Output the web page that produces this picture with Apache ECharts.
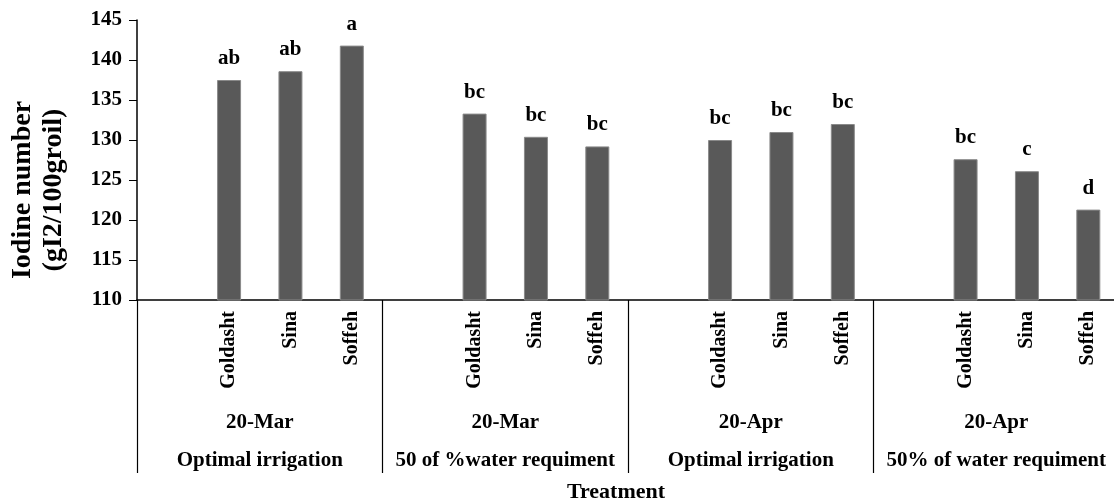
<!DOCTYPE html>
<html>
<head>
<meta charset="utf-8">
<script src="https://cdn.jsdelivr.net/npm/echarts@6/dist/echarts.min.js"></script>
<style>html,body{margin:0;padding:0;background:#fff;}#c{width:1114px;height:502px;}</style>
</head>
<body>
<div id="c"></div>
<script>
var cultivars = ['Goldasht', 'Sina', 'Soffeh'];
var sowingDates = ['20-Mar', '20-Mar', '20-Apr', '20-Apr'];
var treatments = ['Optimal irrigation', '50 of %water requiment', 'Optimal irrigation', '50% of water requiment'];
var iodineValues = [137.5, 138.6, 141.8, 133.3, 130.4, 129.2, 130.0, 131.0, 132.0, 127.6, 126.1, 121.3];
var letters = ['ab', 'ab', 'a', 'bc', 'bc', 'bc', 'bc', 'bc', 'bc', 'bc', 'c', 'd'];
var yTicks = { min: 110, max: 145, interval: 5 };

// each group is drawn with an empty leading slot, as in the original chart
var slotCats = [], slotVals = [], slotLetters = [];
for (var g = 0; g < sowingDates.length; g++) {
  slotCats.push(''); slotVals.push(null); slotLetters.push('');
  for (var k = 0; k < cultivars.length; k++) {
    slotCats.push(cultivars[k]);
    slotVals.push(iodineValues[g * cultivars.length + k]);
    slotLetters.push(letters[g * cultivars.length + k]);
  }
}
var groupCats = sowingDates.map(function (d, i) { return d + '|' + treatments[i]; });

var FF = 'Liberation Serif, Times New Roman, serif';
var chart = echarts.init(document.getElementById('c'));
chart.setOption({
  animation: false,
  backgroundColor: '#fff',
  grid: { left: 137, top: 20, height: 280, width: 982, containLabel: false, outerBoundsMode: 'none' },
  xAxis: [{
    type: 'category',
    data: slotCats,
    position: 'bottom',
    boundaryGap: true,
    axisLine: { show: true, lineStyle: { color: '#000', width: 1.5 } },
    axisTick: { show: false },
    axisLabel: { interval: 0, rotate: 90, margin: 11, color: '#000', fontFamily: FF, fontWeight: 'bold', fontSize: 20 },
    splitLine: { show: false }
  }, {
    type: 'category',
    data: groupCats,
    position: 'bottom',
    offset: 0,
    boundaryGap: true,
    axisLine: { show: false },
    axisTick: { show: true, interval: 0, length: 173, lineStyle: { color: '#000', width: 1.2 } },
    axisLabel: {
      interval: 0, margin: 104, color: '#000',
      formatter: function (v) { var p = v.split('|'); return '{d|' + p[0] + '}\n{t|' + p[1] + '}'; },
      rich: {
        d: { fontFamily: FF, fontWeight: 'bold', fontSize: 21, lineHeight: 38, color: '#000' },
        t: { fontFamily: FF, fontWeight: 'bold', fontSize: 21, lineHeight: 38, color: '#000' }
      }
    },
    splitLine: { show: false }
  }],
  yAxis: {
    type: 'value',
    min: yTicks.min, max: yTicks.max, interval: yTicks.interval,
    axisLine: { show: true, lineStyle: { color: '#000', width: 1.5 } },
    axisTick: { show: true, length: 8, lineStyle: { color: '#000' } },
    axisLabel: { margin: 15, color: '#000', fontFamily: FF, fontWeight: 'bold', fontSize: 21 },
    splitLine: { show: false }
  },
  series: [{
    type: 'bar',
    xAxisIndex: 0,
    data: slotVals,
    barWidth: 24,
    itemStyle: { color: '#595959', borderColor: '#8a8a8a', borderWidth: 1 },
    label: {
      show: true, position: 'top', distance: 11, color: '#000',
      fontFamily: FF, fontWeight: 'bold', fontSize: 21,
      formatter: function (p) { return slotLetters[p.dataIndex]; }
    }
  }],
  graphic: [{
    type: 'text', x: 38, y: 190, rotation: Math.PI / 2,
    style: { text: 'Iodine number\n(gI2/100groil)', fontFamily: FF, fontWeight: 'bold', fontSize: 28, lineHeight: 31, fill: '#000', textAlign: 'center', textVerticalAlign: 'middle' }
  }, {
    type: 'text', x: 616, y: 492,
    style: { text: 'Treatment', fontFamily: FF, fontWeight: 'bold', fontSize: 22, fill: '#000', textAlign: 'center', textVerticalAlign: 'middle' }
  }]
});
</script>
</body>
</html>
